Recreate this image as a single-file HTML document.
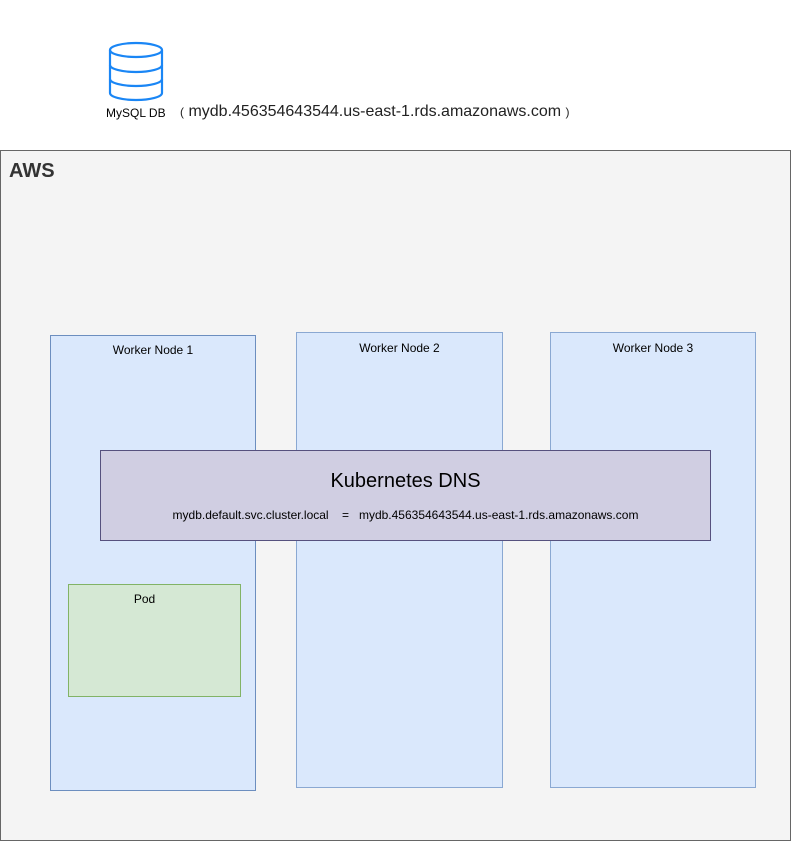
<!DOCTYPE html>
<html><head><style>
body{margin:0;width:791px;height:841px;position:relative;background:#fff;font-family:"Liberation Sans",Arial,sans-serif;overflow:hidden}
.b{position:absolute;box-sizing:border-box}
.t{position:absolute;white-space:nowrap;color:#000}
</style></head><body>
<svg class="b" style="left:105px;top:40px" width="62" height="64" viewBox="0 0 62 64">
<g fill="none" stroke="#1a86f5" stroke-width="2.2">
<ellipse cx="31" cy="10" rx="26" ry="7" fill="#fff"/>
<path d="M5 10 V53 A26 7 0 0 0 57 53 V10"/>
<path d="M5 25 A26 7 0 0 0 57 25"/>
<path d="M5 39 A26 7 0 0 0 57 39"/>
</g></svg>
<div class="t" style="left:106px;top:106px;font-size:12px">MySQL DB</div>
<div class="t" style="left:180px;top:103px;font-size:16px;color:#222"><span style="font-size:12px">(</span>&nbsp;mydb.456354643544.us-east-1.rds.amazonaws.com&nbsp;<span style="font-size:12px">)</span></div>
<div class="b" style="left:0;top:150px;width:791px;height:691px;background:#f4f4f4;border:1px solid #666"></div>
<div class="t" style="left:9px;top:160px;font-size:20px;font-weight:bold;color:#333">AWS</div>
<div class="b" style="left:50px;top:335px;width:206px;height:456px;background:#dae8fc;border:1px solid #6c8ebf"></div>
<div class="b" style="left:296px;top:332px;width:207px;height:456px;background:#dae8fc;border:1px solid #8aa8d2"></div>
<div class="b" style="left:550px;top:332px;width:206px;height:456px;background:#dae8fc;border:1px solid #8aa8d2"></div>
<div class="t" style="left:50px;width:206px;text-align:center;top:343px;font-size:12px">Worker Node 1</div>
<div class="t" style="left:296px;width:207px;text-align:center;top:341px;font-size:12px">Worker Node 2</div>
<div class="t" style="left:550px;width:206px;text-align:center;top:341px;font-size:12px">Worker Node 3</div>
<div class="b" style="left:100px;top:450px;width:611px;height:91px;background:#d0cee2;border:1px solid #56517e"></div>
<div class="t" style="left:100px;width:611px;text-align:center;top:470px;font-size:20px">Kubernetes DNS</div>
<div class="t" style="left:100px;width:611px;text-align:center;top:508px;font-size:12px">mydb.default.svc.cluster.local &nbsp; &nbsp;= &nbsp; mydb.456354643544.us-east-1.rds.amazonaws.com</div>
<div class="b" style="left:68px;top:584px;width:173px;height:113px;background:#d5e8d4;border:1px solid #82b366"></div>
<div class="t" style="left:68px;width:153px;text-align:center;top:592px;font-size:12px">Pod</div>
</body></html>
